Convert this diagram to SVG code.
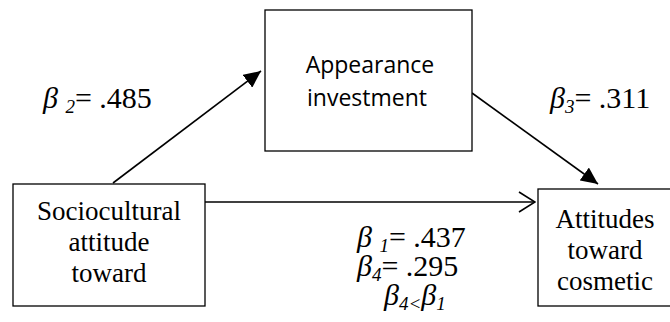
<svg xmlns="http://www.w3.org/2000/svg" width="670" height="322" viewBox="0 0 670 322">
<style>
.box{fill:#fff;stroke:#000;stroke-width:1.3}
.edge{stroke:#000;stroke-width:1.6;fill:none}
</style>
<defs>
<marker id="tri" markerUnits="userSpaceOnUse" markerWidth="18" markerHeight="16" refX="17" refY="8" orient="auto">
<path d="M0,0 L17,8 L0,16 Z" fill="#000"/>
</marker>
<marker id="open" markerUnits="userSpaceOnUse" markerWidth="18" markerHeight="22" refX="17" refY="11" orient="auto">
<path d="M1,1 L17,11 L1,21" fill="none" stroke="#000" stroke-width="1.6"/>
</marker>
</defs>
<g id="connectors">
<line class="edge" x1="113" y1="183" x2="261" y2="71" marker-end="url(#tri)"/>
<line class="edge" x1="472" y1="93" x2="598" y2="184" marker-end="url(#tri)"/>
<line class="edge" x1="205" y1="202" x2="535" y2="202" marker-end="url(#open)"/>
</g>
<g id="appearance">
<rect class="box" x="265" y="10" width="207" height="141"/>
<g font-family="Open Sans, Liberation Sans, sans-serif" font-size="23" fill="#000" text-anchor="middle">
<text x="370" y="73">Appearance</text>
<text x="367" y="106">investment</text>
</g>
</g>
<g id="sociocultural">
<rect class="box" x="13" y="184" width="192" height="122"/>
<g font-family="Liberation Serif, DejaVu Serif, serif" font-size="27" fill="#000" text-anchor="middle">
<text x="109" y="220">Sociocultural</text>
<text x="109" y="251">attitude</text>
<text x="109" y="282">toward</text>
</g>
</g>
<g id="attitudes">
<rect class="box" x="538" y="189" width="140" height="117"/>
<g font-family="Liberation Serif, DejaVu Serif, serif" font-size="27" fill="#000" text-anchor="middle">
<text x="605" y="228">Attitudes</text>
<text x="605" y="259">toward</text>
<text x="605" y="290">cosmetic</text>
</g>
</g>
<g id="labels" font-family="Liberation Serif, DejaVu Serif, serif" font-size="30" fill="#000">
<text x="43" y="108"><tspan font-style="italic">β </tspan><tspan font-style="italic" font-size="19" dy="5">2</tspan><tspan dy="-5">= .485</tspan></text>
<text x="550" y="108"><tspan font-style="italic">β</tspan><tspan font-style="italic" font-size="19" dy="5">3</tspan><tspan dy="-5">= .311</tspan></text>
<text x="357" y="247"><tspan font-style="italic">β </tspan><tspan font-style="italic" font-size="19" dy="5">1</tspan><tspan dy="-5">= .437</tspan></text>
<text x="357" y="276"><tspan font-style="italic">β</tspan><tspan font-style="italic" font-size="19" dy="5">4</tspan><tspan dy="-5">= .295</tspan></text>
<text x="384" y="305" font-style="italic"><tspan>β</tspan><tspan font-size="19" dy="5">4&lt;</tspan><tspan dy="-5">β</tspan><tspan font-size="19" dy="5">1</tspan></text>
</g>
</svg>
